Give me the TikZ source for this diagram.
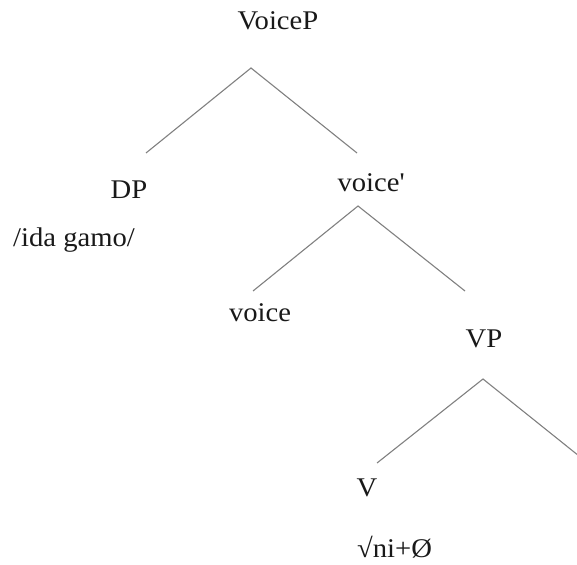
\documentclass[tikz,border=0pt]{standalone}
\usepackage{fontspec}
\setmainfont[FakeStretch=1.06]{Liberation Serif}
\begin{document}
\begin{tikzpicture}[x=1pt,y=-1pt,
  lbl/.style={anchor=base,inner sep=0pt,font=\fontsize{27}{32}\selectfont,text=black!90},
  branch/.style={draw=black!50,line width=1.1pt}]
\useasboundingbox (0,0) rectangle (577,564);
\clip (0,0) rectangle (577,564);
% labels
\node[lbl] (voiceP) at (278,30) {VoiceP};
\node[lbl] (dp) at (129,198) {DP};
\node[lbl,anchor=base west] (dpform) at (13,246) {/ida gamo/};
\node[lbl] (voicebar) at (371,191) {voice\textquotesingle};
\node[lbl] (voice) at (260,321) {voice};
\node[lbl] (vp) at (484,347) {VP};
\node[lbl] (v) at (367,496) {V};
\node[lbl,anchor=base west] (vform) at (357,557) {√ni+Ø};
% branch points
\coordinate (voicePtop) at (251,68);
\coordinate (dpEnd) at (146,153);
\coordinate (voicebarEnd) at (357,153);
\coordinate (voicebarTop) at (358,206);
\coordinate (voiceEnd) at (253,291);
\coordinate (vpEnd) at (465,291);
\coordinate (vpTop) at (483,379);
\coordinate (vEnd) at (377,463);
\coordinate (compEnd) at (589,464);
% branches
\draw[branch] (dpEnd) -- (voicePtop) -- (voicebarEnd);
\draw[branch] (voiceEnd) -- (voicebarTop) -- (vpEnd);
\draw[branch] (vEnd) -- (vpTop) -- (compEnd);
\end{tikzpicture}
\end{document}
